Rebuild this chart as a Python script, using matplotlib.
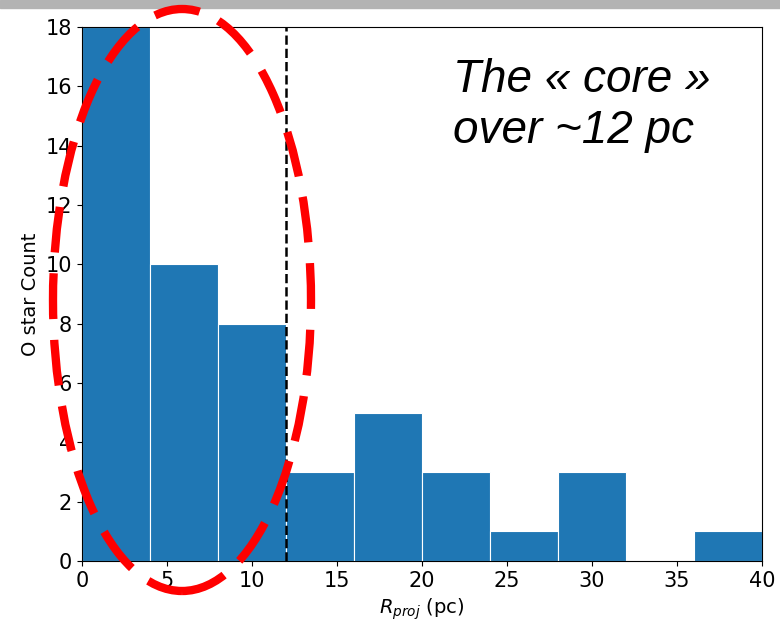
import matplotlib.pyplot as plt
import numpy as np
from matplotlib.patches import Ellipse, Rectangle

# histogram of projected radii, 4 pc bins
bin_edges = [0, 4, 8, 12, 16, 20, 24, 28, 32, 36, 40]
counts = [18, 10, 8, 3, 5, 3, 1, 3, 0, 1]
core_radius = 12

fig = plt.figure(figsize=(7.8, 6.29), dpi=100)
ax = fig.add_axes([0.105, 0.108, 0.872, 0.849])

ax.hist(bin_edges[:-1], bins=bin_edges, weights=counts,
        color='#1f77b4', edgecolor='white', linewidth=0.8)
ax.axvline(core_radius, color='black', linestyle='--', linewidth=1.8)

ax.set_xlim(0, 40)
ax.set_ylim(0, 18)
ax.set_xticks(np.arange(0, 41, 5))
ax.set_yticks(np.arange(0, 19, 2))
ax.tick_params(labelsize=15)
ax.set_xlabel('$R_{proj}$ (pc)', fontsize=14)
ax.set_ylabel('O star Count', fontsize=14)

ax.text(0.545, 0.942, 'The « core »\nover ~12 pc', transform=ax.transAxes,
        fontsize=33, style='italic', family='Liberation Sans',
        ha='left', va='top', linespacing=1.2)

# grey band along the top edge
fig.patches.append(Rectangle((0, 1 - 8/629), 1, 8/629, transform=fig.transFigure,
                             color='#b3b3b3', zorder=0))

# dashed red ellipse around the inner bins
fig.patches.append(Ellipse((182/780, 1 - 300/629), 258/780, 582/629,
                           transform=fig.transFigure, fill=False,
                           edgecolor='#ff0000', linewidth=6,
                           linestyle=(0, (5.5, 2.5)), zorder=10))

fig.savefig('out.png', dpi=100)
